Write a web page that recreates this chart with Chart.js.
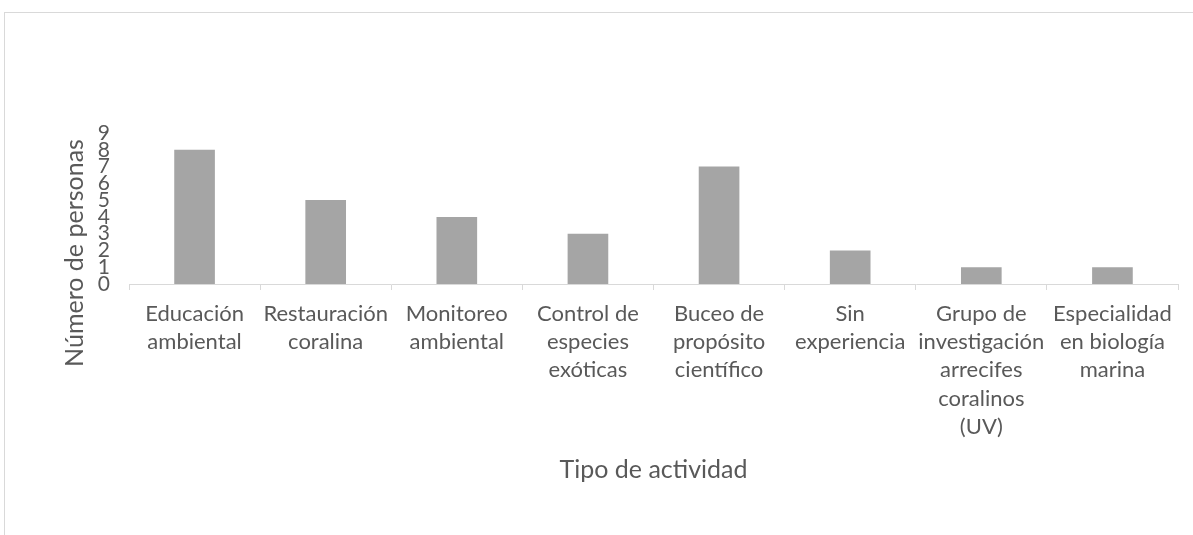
<!DOCTYPE html>
<html>
<head>
<meta charset="utf-8">
<script src="https://cdn.jsdelivr.net/npm/chart.js@4.4.1/dist/chart.umd.min.js"></script>
<style>
  html, body { margin: 0; padding: 0; background: #ffffff; overflow: hidden; }
  #frame { position: absolute; left: 4px; top: 12px; width: 1300px; height: 600px;
           border-top: 1px solid #d9d9d9; border-left: 1px solid #d9d9d9; }
  #wrap { position: absolute; left: 0; top: 0; width: 1193px; height: 535px; }
</style>
</head>
<body>
<div id="frame"></div>
<div id="wrap"><canvas id="c" width="1193" height="535"></canvas></div>
<script>
const categories = [
  ["Educación", "ambiental"],
  ["Restauración", "coralina"],
  ["Monitoreo", "ambiental"],
  ["Control de", "especies", "exóticas"],
  ["Buceo de", "propósito", "científico"],
  ["Sin", "experiencia"],
  ["Grupo de", "investigación", "arrecifes", "coralinos", "(UV)"],
  ["Especialidad", "en biología", "marina"]
];
const values = [8, 5, 4, 3, 7, 2, 1, 1];
const yMin = 0;
const yMax = 9;
const yStep = 1;
const xTitle = "Tipo de actividad";
const yTitle = "Número de personas";

const FONT = "Lato, 'Open Sans', sans-serif";
const TXT = "#595959";

const yTitlePlugin = {
  id: 'yTitlePlugin',
  afterDraw(chart) {
    const ctx = chart.ctx;
    ctx.save();
    ctx.translate(75, 253);
    ctx.rotate(-Math.PI / 2);
    ctx.font = "25px " + FONT;
    ctx.fillStyle = TXT;
    ctx.textAlign = 'center';
    ctx.textBaseline = 'middle';
    ctx.fillText(yTitle, 0, 0);
    ctx.restore();
  }
};

new Chart(document.getElementById('c'), {
  type: 'bar',
  data: {
    labels: categories,
    datasets: [{
      data: values,
      backgroundColor: '#a5a5a5',
      borderWidth: 0,
      categoryPercentage: 1.0,
      barPercentage: 0.31
    }]
  },
  plugins: [yTitlePlugin],
  options: {
    responsive: false,
    animation: false,
    layout: { padding: { left: 0, top: 133, right: 15, bottom: 0 } },
    plugins: { legend: { display: false }, tooltip: { enabled: false } },
    scales: {
      x: {
        offset: true,
        grid: { display: true, drawOnChartArea: false, drawTicks: true, tickLength: 6,
                color: '#d9d9d9', lineWidth: 1, offset: true },
        border: { display: true, color: '#d9d9d9', width: 1 },
        ticks: { color: TXT, font: { family: FONT, size: 22, lineHeight: 1.28 },
                 maxRotation: 0, minRotation: 0, autoSkip: false, padding: 10 },
        title: { display: true, text: xTitle, color: TXT,
                 font: { family: FONT, size: 25, lineHeight: 1.2 },
                 padding: { top: 0, bottom: 50 } },
        afterFit: (s) => { s.height = 535 - 284; }
      },
      y: {
        min: yMin, max: yMax,
        grid: { display: false, drawTicks: false },
        border: { display: false },
        ticks: { stepSize: yStep, color: TXT, autoSkip: false,
                 font: { family: FONT, size: 21, lineHeight: 1.0 }, padding: 19 },
        title: { display: false },
        afterFit: (s) => { s.width = 129; }
      }
    }
  }
});
</script>
</body>
</html>
